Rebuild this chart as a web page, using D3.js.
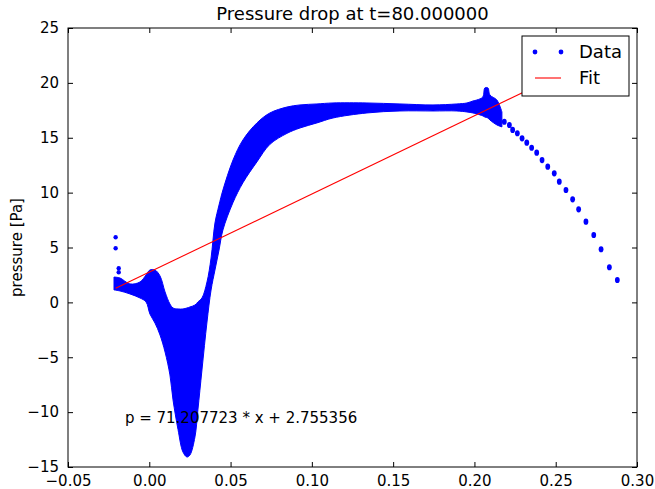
<!DOCTYPE html>
<html>
<head>
<meta charset="utf-8">
<script src="https://cdn.jsdelivr.net/npm/d3@7"></script>
<style>
  body { margin: 0; background: #fff; }
  svg { display: block; font-family: "DejaVu Sans", sans-serif; }
</style>
</head>
<body>
<div id="chart"></div>
<script>
// dense part of the scatter, read as an envelope (upper / lower edge) along x
var bandX = [-0.0217, -0.0180, -0.0119, -0.0057, -0.0020, 0.0004, 0.0035, 0.0066, 0.0097, 0.0127,
             0.0146, 0.0177, 0.0207, 0.0232, 0.0250, 0.0281, 0.0299, 0.0324, 0.0355, 0.0380,
             0.0404, 0.0429, 0.0453, 0.0515, 0.0576, 0.0662, 0.0742, 0.0847, 0.0927, 0.1031,
             0.1130, 0.1339, 0.1542, 0.1745, 0.1892, 0.1954, 0.1991, 0.2015, 0.2052, 0.2064,
             0.2083, 0.2095, 0.2138, 0.2169];
var bandHi = [2.31, 2.22, 1.68, 1.86, 2.50, 2.95, 2.95, 2.41, 0.95, -0.15,
              -0.51, -0.60, -0.60, -0.51, -0.42, -0.24, 0.04, 0.40, 1.86, 4.04,
              7.23, 8.87, 10.24, 12.97, 14.80, 16.35, 17.26, 17.80, 17.99, 18.08,
              18.17, 18.17, 18.08, 17.99, 18.08, 18.17, 18.35, 18.44, 18.72, 19.54,
              19.54, 18.90, 18.44, 17.35];
var bandLo = [1.13, 1.04, 0.77, 0.40, 0.04, -1.06, -1.88, -2.97, -4.52, -6.61,
              -8.89, -11.60, -13.63, -14.09, -13.91, -12.26, -9.80, -6.16, -1.79, 1.13,
              2.95, 4.77, 6.60, 9.10, 10.90, 12.80, 14.40, 15.40, 15.89, 16.35,
              16.80, 17.26, 17.44, 17.44, 17.44, 17.35, 17.26, 17.17, 16.99, 16.89,
              16.80, 16.62, 16.17, 15.99];

// separate points (left outliers and the tail on the right)
var dotX = [-0.0207, -0.0207, -0.0188, -0.0188,
            0.2184, 0.2215, 0.2235, 0.2264, 0.2293, 0.2322, 0.2352, 0.2383, 0.2416, 0.2451,
            0.2491, 0.2522, 0.2563, 0.2604, 0.2641, 0.2686, 0.2734, 0.2779, 0.2830, 0.2879];
var dotY = [5.93, 4.93, 3.11, 2.74,
            16.46, 16.16, 15.71, 15.41, 14.95, 14.55, 14.09, 13.64, 12.97, 12.36,
            11.76, 11.00, 10.24, 9.39, 8.48, 7.35, 6.14, 4.84, 3.20, 2.04];

var fitSlope = 71.207723, fitIntercept = 2.755356;
var xTicks = [-0.05, 0.00, 0.05, 0.10, 0.15, 0.20, 0.25, 0.30];
var yTicks = [-15, -10, -5, 0, 5, 10, 15, 20, 25];

var W = 655, H = 489;
var margin = {top: 28, right: 18, bottom: 22, left: 68};
var width = W - margin.left - margin.right,
    height = H - margin.top - margin.bottom;

var x = d3.scaleLinear().domain([-0.05, 0.30]).range([0, width]);
var y = d3.scaleLinear().domain([-15, 25]).range([height, 0]);

var svg = d3.select('#chart').append('svg')
    .attr('width', W)
    .attr('height', H);

var g = svg.append('g')
    .attr('transform', 'translate(' + margin.left + ',' + margin.top + ')');

var minus = function(s) { return s.replace('-', '\u2212'); };

// band
var band = bandX.map(function(v, i) { return [v, bandHi[i], bandLo[i]]; });
var area = d3.area()
    .x(function(d) { return x(d[0]); })
    .y0(function(d) { return y(d[2]); })
    .y1(function(d) { return y(d[1]); })
    .curve(d3.curveCatmullRom);

g.append('path')
    .datum(band)
    .attr('d', area)
    .attr('fill', '#0000ff')
    .attr('stroke', '#0000ff')
    .attr('stroke-width', 1);

g.selectAll('.dot')
    .data(dotX.map(function(v, i) { return [v, dotY[i]]; }))
    .enter().append('ellipse')
    .attr('class', 'dot')
    .attr('cx', function(d) { return x(d[0]); })
    .attr('cy', function(d) { return y(d[1]); })
    .attr('rx', function(d) { return d[0] < 0 ? 2.2 : 2.4; })
    .attr('ry', function(d) { return d[0] < 0 ? 2.2 : 3.1; })
    .attr('fill', '#0000ff');

// fit line
var xMin = d3.min(dotX), xMax = d3.max(dotX);
g.append('line')
    .attr('x1', x(xMin)).attr('y1', y(fitSlope * xMin + fitIntercept))
    .attr('x2', x(xMax)).attr('y2', y(fitSlope * xMax + fitIntercept))
    .attr('stroke', '#ff0000')
    .attr('stroke-width', 1.1);

// equation
g.append('text')
    .attr('x', x(-0.015))
    .attr('y', y(-11))
    .attr('font-size', 15)
    .attr('fill', '#000')
    .text('p = ' + fitSlope.toFixed(6) + ' * x + ' + fitIntercept.toFixed(6));

// axes, ticks inside on all four sides
var fmtX = d3.format('.2f');
var axB = d3.axisBottom(x).tickValues(xTicks).tickSizeInner(-5).tickSizeOuter(0).tickPadding(8)
    .tickFormat(function(d) { return minus(fmtX(d)); });
var axT = d3.axisTop(x).tickValues(xTicks).tickSizeInner(-5).tickSizeOuter(0).tickFormat('');
var axL = d3.axisLeft(y).tickValues(yTicks).tickSizeInner(-5).tickSizeOuter(0).tickPadding(9)
    .tickFormat(function(d) { return minus(String(d)); });
var axR = d3.axisRight(y).tickValues(yTicks).tickSizeInner(-5).tickSizeOuter(0).tickFormat('');

g.append('g').attr('transform', 'translate(0,' + height + ')').call(axB);
g.append('g').call(axT);
g.append('g').call(axL);
g.append('g').attr('transform', 'translate(' + width + ',0)').call(axR);

g.selectAll('.domain').remove();
g.selectAll('.tick line').attr('stroke', '#000');
g.selectAll('.tick text').attr('font-size', 15).attr('fill', '#000').attr('font-family', 'DejaVu Sans');

g.append('rect')
    .attr('width', width).attr('height', height)
    .attr('fill', 'none').attr('stroke', '#000').attr('stroke-width', 1);

// title and y label
svg.append('text')
    .attr('x', margin.left + width / 2)
    .attr('y', 20)
    .attr('text-anchor', 'middle')
    .attr('font-size', 18)
    .text('Pressure drop at t=80.000000');

svg.append('text')
    .attr('transform', 'translate(22,' + (margin.top + height / 2) + ') rotate(-90)')
    .attr('text-anchor', 'middle')
    .attr('font-size', 15)
    .text('pressure [Pa]');

// legend
var leg = g.append('g').attr('transform', 'translate(' + (width - 115) + ',8)');
leg.append('rect')
    .attr('width', 107).attr('height', 60)
    .attr('fill', '#fff').attr('stroke', '#000').attr('stroke-width', 1);
leg.selectAll('circle')
    .data([13, 39])
    .enter().append('circle')
    .attr('cx', function(d) { return d; })
    .attr('cy', 16)
    .attr('r', 2.4)
    .attr('fill', '#0000ff');
leg.append('line')
    .attr('x1', 13).attr('x2', 39).attr('y1', 42).attr('y2', 42)
    .attr('stroke', '#ff0000').attr('stroke-width', 1.1);
leg.append('text').attr('x', 57).attr('y', 22).attr('font-size', 18).text('Data');
leg.append('text').attr('x', 57).attr('y', 48).attr('font-size', 18).text('Fit');
</script>
</body>
</html>
